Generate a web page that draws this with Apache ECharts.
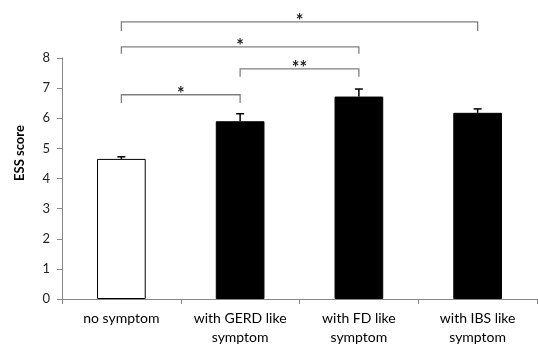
<!DOCTYPE html>
<html><head><meta charset="utf-8">
<script src="https://cdn.jsdelivr.net/npm/echarts@6/dist/echarts.min.js"></script>
<style>html,body{margin:0;padding:0;background:#fff}#c{width:538px;height:347px}</style>
</head><body><div id="c"></div>
<script>
var categories = ['no symptom', 'with GERD like\nsymptom', 'with FD like\nsymptom', 'with IBS like\nsymptom'];
var means = [4.65, 5.9, 6.72, 6.18];
var errors = [0.07, 0.25, 0.25, 0.13];
var yTicks = [0, 1, 2, 3, 4, 5, 6, 7, 8];
// brackets: [fromIndex, toIndex, barY, legBottomY, label]
var brackets = [
  [0, 3, 9.2, 8.9, '*'],
  [0, 2, 8.37, 8.14, '*'],
  [1, 2, 7.64, 7.38, '**'],
  [0, 1, 6.78, 6.51, '*']
];
var fontFam = 'Lato, "Open Sans", sans-serif';
var chart = echarts.init(document.getElementById('c'));
chart.setOption({
  animation: false,
  grid: {left: 62, right: 1, top: 58, bottom: 48},
  xAxis: {
    type: 'category', data: categories,
    axisLine: {lineStyle: {color: '#888', width: 1}},
    axisTick: {show: true, alignWithLabel: false, length: 5, lineStyle: {color: '#888'}},
    axisLabel: {interval: 0, fontSize: 14, lineHeight: 19, margin: 10, color: '#000', fontFamily: fontFam}
  },
  yAxis: {
    type: 'value', min: yTicks[0], max: yTicks[yTicks.length - 1], interval: 1,
    splitLine: {show: false},
    axisLine: {show: true, lineStyle: {color: '#888', width: 1}},
    axisTick: {show: true, length: 5, lineStyle: {color: '#888'}},
    axisLabel: {fontSize: 13, margin: 12, color: '#222', fontFamily: fontFam}
  },
  graphic: [{
    type: 'text', x: 20, y: 153, rotation: Math.PI / 2,
    style: {text: 'ESS score', font: 'bold 13px ' + fontFam, fill: '#000', align: 'center', verticalAlign: 'middle'}
  }],
  series: [
    {
      type: 'bar', barWidth: '41%',
      data: means.map(function (v, i) {
        return {value: v, itemStyle: {color: i === 0 ? '#fff' : '#000', borderColor: '#000', borderWidth: 1}};
      })
    },
    {
      type: 'custom', clip: false,
      data: means.map(function (v, i) { return [i, v, v + errors[i]]; }),
      renderItem: function (params, api) {
        var b = api.coord([api.value(0), api.value(1)]);
        var t = api.coord([api.value(0), api.value(2)]);
        return {type: 'group', children: [
          {type: 'line', shape: {x1: b[0], y1: b[1], x2: t[0], y2: t[1]}, style: {stroke: '#000', lineWidth: 1.5}},
          {type: 'line', shape: {x1: t[0] - 4, y1: t[1], x2: t[0] + 4, y2: t[1]}, style: {stroke: '#000', lineWidth: 1.5}}
        ]};
      }
    },
    {
      type: 'custom', clip: false,
      data: brackets,
      renderItem: function (params, api) {
        var a = api.coord([api.value(0), api.value(2)]);
        var b = api.coord([api.value(1), api.value(2)]);
        var lb = api.coord([api.value(0), api.value(3)]);
        var label = brackets[params.dataIndex][4];
        return {type: 'group', children: [
          {type: 'polyline', shape: {points: [[a[0], lb[1]], [a[0], a[1]], [b[0], b[1]], [b[0], lb[1]]]},
           style: {stroke: '#808080', lineWidth: 1.3, fill: null}},
          {type: 'text', x: (a[0] + b[0]) / 2, y: a[1] - 1,
           style: {text: label, font: 'bold 18px ' + fontFam, fill: '#222', align: 'center', verticalAlign: 'middle'}}
        ]};
      }
    }
  ]
});
</script></body></html>
